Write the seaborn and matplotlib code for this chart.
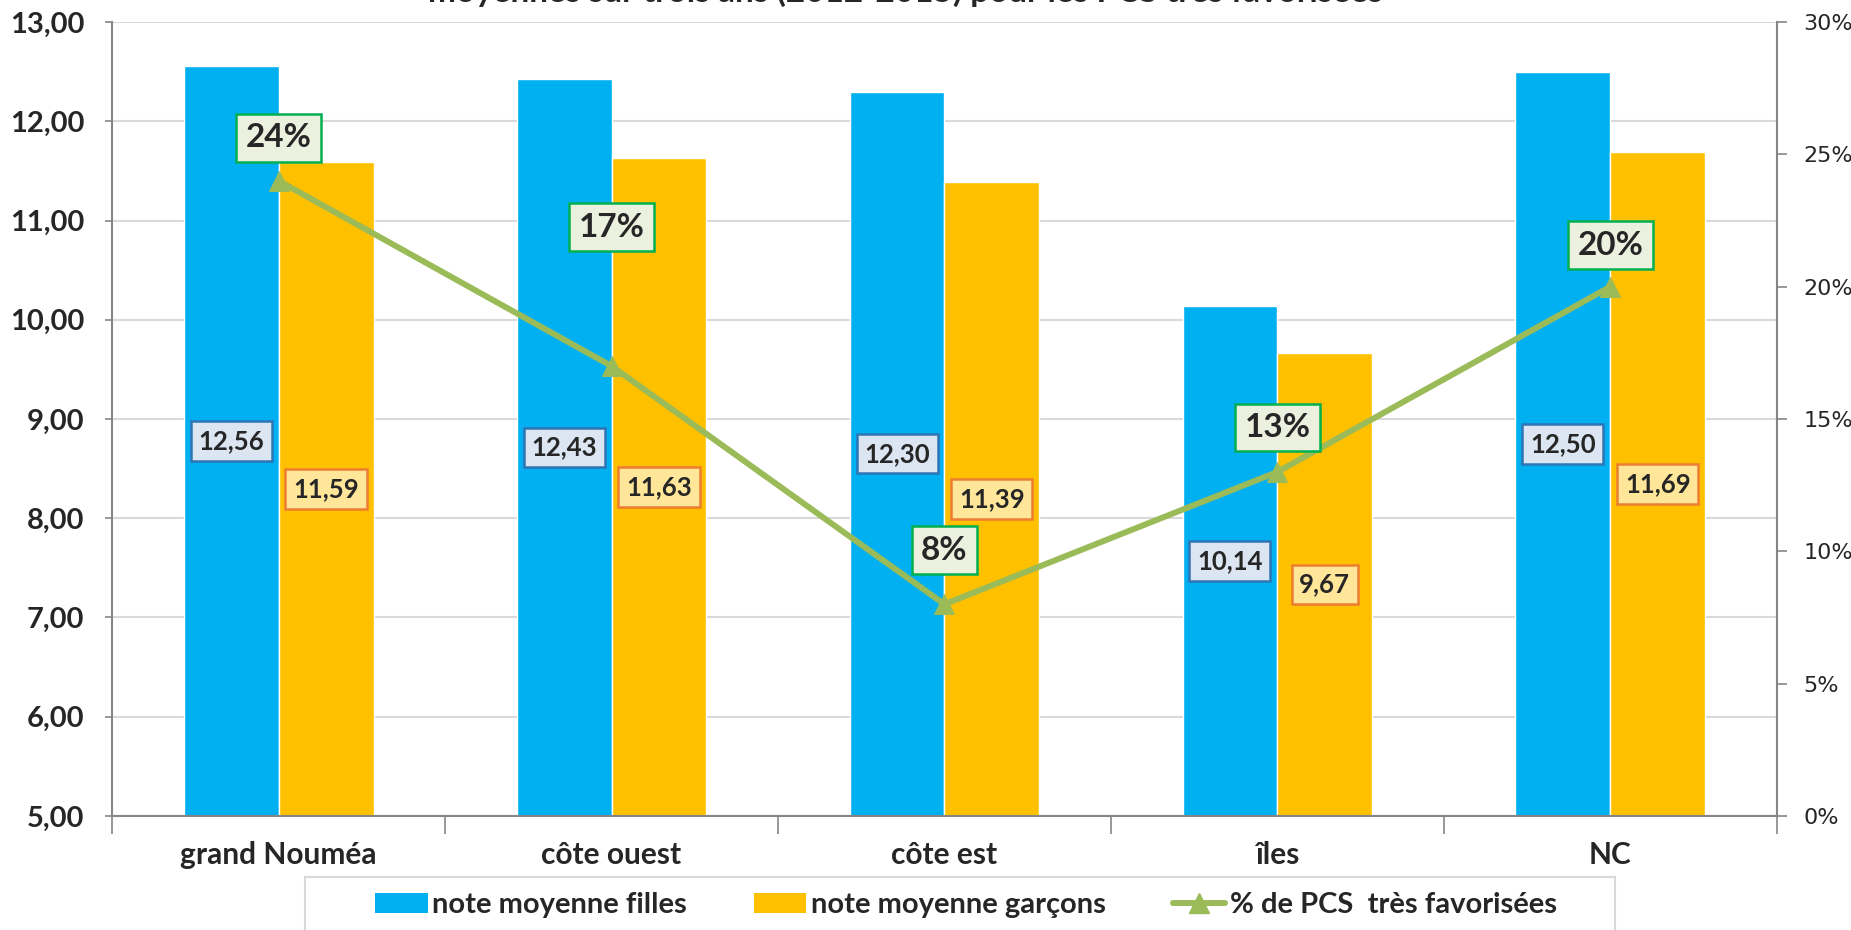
import numpy as np
import pandas as pd
import matplotlib
matplotlib.use("Agg")
import matplotlib.pyplot as plt
import seaborn as sns
from matplotlib.patches import Patch, Rectangle
from matplotlib.lines import Line2D
from matplotlib.ticker import FuncFormatter

# ---- data ----
categories = ["grand Nouméa", "côte ouest", "côte est", "îles", "NC"]
notes_filles = [12.56, 12.43, 12.30, 10.14, 12.50]
notes_garcons = [11.59, 11.63, 11.39, 9.67, 11.69]
pct_pcs = [0.24, 0.17, 0.08, 0.13, 0.20]
series_names = ["note moyenne filles", "note moyenne garçons", "% de PCS  très favorisées"]
left_ticks = [5, 6, 7, 8, 9, 10, 11, 12, 13]
right_ticks = [0.0, 0.05, 0.10, 0.15, 0.20, 0.25, 0.30]
title = "moyennes sur trois ans (2012-2015) pour les PCS très favorisées"

# ---- style ----
BLUE = "#00B0F0"
ORANGE = "#FFC000"
GREEN = "#9BBB59"
GRID = "#D9D9D9"
AXIS = "#868686"
pct_label_offsets = [31, 100, 39, 32, 30]  # points above the marker

sns.set_theme(style="white")
plt.rcParams["font.family"] = ["Lato", "DejaVu Sans"]

fig = plt.figure(figsize=(18.51, 9.30), dpi=100)
ax = fig.add_axes([0.0606, 0.1226, 0.8993, 0.8537])

df = pd.DataFrame({
    "cat": categories * 2,
    "note": notes_filles + notes_garcons,
    "serie": [series_names[0]] * len(categories) + [series_names[1]] * len(categories),
})
sns.barplot(data=df, x="cat", y="note", hue="serie", palette=[BLUE, ORANGE],
            width=0.57, gap=0, saturation=1, errorbar=None, legend=False, ax=ax, zorder=2)

ax.set_ylim(left_ticks[0], left_ticks[-1])
ax.set_yticks(left_ticks)
ax.set_yticklabels([f"{v:.2f}".replace(".", ",") for v in left_ticks],
                   fontsize=21, fontweight="bold")
ax.set_xlim(-0.5, len(categories) - 0.5)
ax.set_xlabel("")
ax.set_ylabel("")
ax.grid(axis="y", color=GRID, lw=1.5, zorder=0)
ax.set_axisbelow(True)
ax.tick_params(axis="y", left=True, length=5, width=1.2, color=AXIS, pad=15)
ax.tick_params(axis="x", which="major", length=0, pad=18, labelsize=21.5)
for lbl in ax.get_xticklabels():
    lbl.set_fontweight("bold")
ax.set_xticks(np.arange(len(categories) + 1) - 0.5, minor=True)
ax.tick_params(axis="x", which="minor", bottom=True, length=13, width=1.2, color=AXIS)
for side in ["left", "bottom"]:
    ax.spines[side].set_color(AXIS)
    ax.spines[side].set_linewidth(1.5)
ax.spines["top"].set_visible(False)
ax.spines["right"].set_visible(False)

# value labels at the centre of each bar
bar_styles = [("#DCE6F2", "#2E75B6"), ("#FFE699", "#ED7D31")]
base = left_ticks[0]
for cont, (fc, ec) in zip(ax.containers, bar_styles):
    for p in cont:
        v = p.get_height()
        xc = p.get_x() + p.get_width() / 2
        ax.text(xc, (base + v) / 2, f"{v:.2f}".replace(".", ","), ha="center", va="center",
                fontsize=18.5, fontweight="bold", zorder=5,
                bbox=dict(boxstyle="square,pad=0.3", fc=fc, ec=ec, lw=1.8))

# line on secondary axis
ax2 = ax.twinx()
xpos = np.arange(len(categories))
sns.lineplot(x=xpos, y=pct_pcs, ax=ax2, color=GREEN, lw=4.3, marker="^",
             markersize=15, markeredgecolor=GREEN, markerfacecolor=GREEN)
ax2.set_ylim(right_ticks[0], right_ticks[-1])
ax2.set_yticks(right_ticks)
ax2.yaxis.set_major_formatter(FuncFormatter(lambda v, _: f"{v*100:.0f}%"))
for lbl in ax2.get_yticklabels():
    lbl.set_fontfamily("DejaVu Sans")
    lbl.set_fontsize(16)
ax2.tick_params(axis="y", right=True, length=7, width=1.2, color=AXIS, pad=12)
ax2.set_ylabel("")
for side in ["left", "top", "bottom"]:
    ax2.spines[side].set_visible(False)
ax2.spines["right"].set_color(AXIS)
ax2.spines["right"].set_linewidth(1.5)

for xi, p, off in zip(xpos, pct_pcs, pct_label_offsets):
    ax2.annotate(f"{p*100:.0f}%", (xi, p), xytext=(0, off), textcoords="offset points",
                 ha="center", va="center", fontsize=24, fontweight="bold", zorder=6,
                 bbox=dict(boxstyle="square,pad=0.28", fc="#EBF1DE", ec="#00B050", lw=1.8))

# title (cut at top like the reference)
fig.text(0.489, 0.998, title, ha="center", va="baseline", fontsize=24, fontweight="bold")

# legend frame (runs off the bottom edge like the reference)
fig.patches.append(Rectangle((304.6 / 1851, -0.05), 1310 / 1851, 0.057 + 0.05,
                             transform=fig.transFigure, fill=False, ec=GRID, lw=1.5))
handles = [
    Patch(facecolor=BLUE, edgecolor="none"),
    Patch(facecolor=ORANGE, edgecolor="none"),
    Line2D([], [], color=GREEN, lw=4.3, marker="^", markersize=15),
]
leg = fig.legend(handles, series_names, loc="center", bbox_to_anchor=(0.5218, 0.0269),
                 ncol=3, frameon=False, prop={"weight": "bold", "size": 21},
                 handlelength=1.8, handleheight=0.7, handletextpad=0.15,
                 columnspacing=2.3, borderpad=0, borderaxespad=0)

fig.savefig("out.png", dpi=100)
